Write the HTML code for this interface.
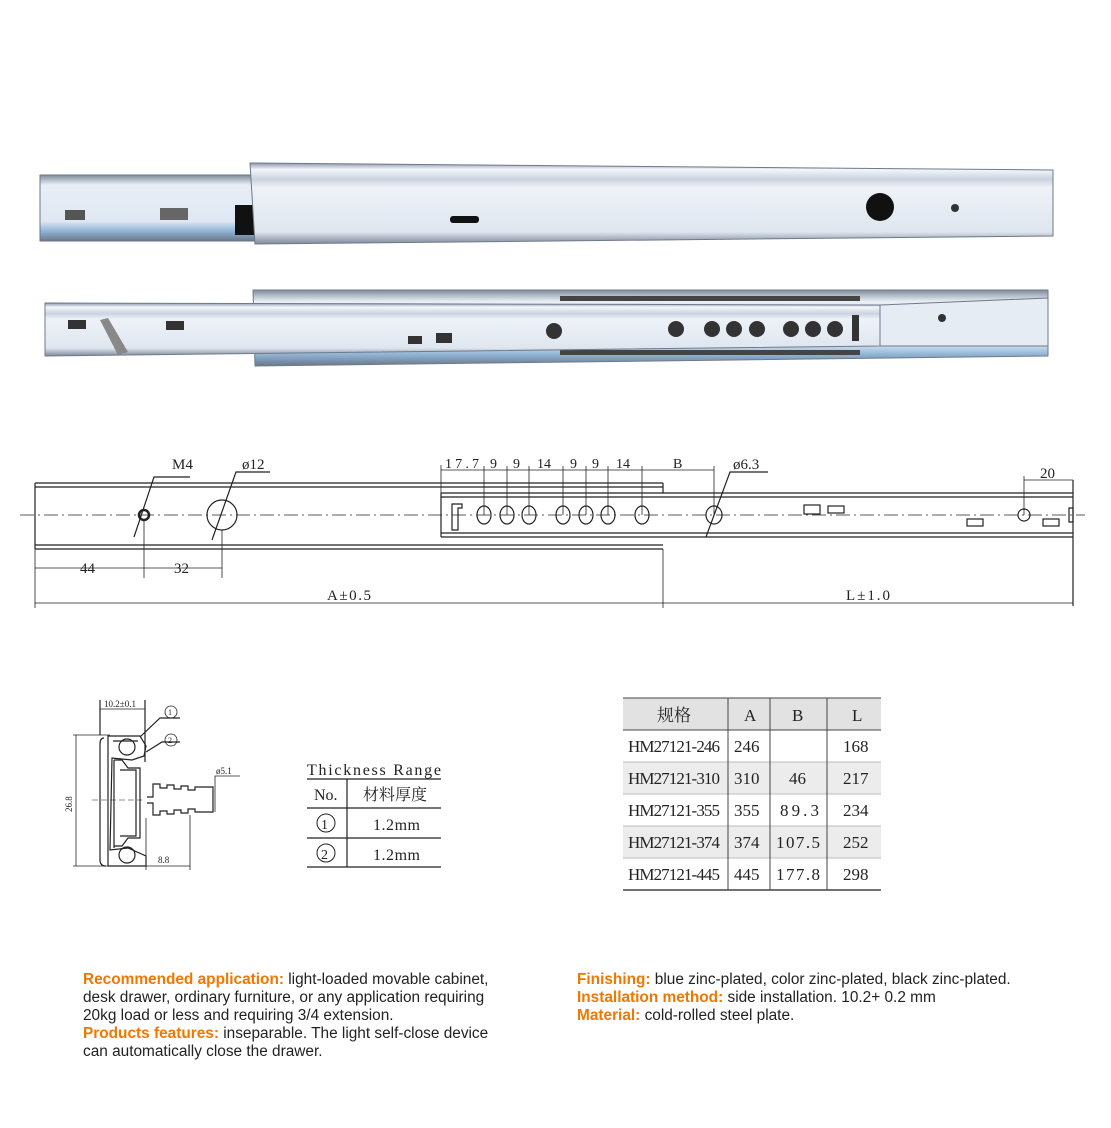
<!DOCTYPE html>
<html><head><meta charset="utf-8"><style>
body{margin:0;background:#fff;width:1111px;height:1128px;overflow:hidden;position:relative;font-family:"Liberation Sans",Arial,sans-serif}
.t{position:absolute;font-size:15.4px;line-height:18px;color:#222}
.o{color:#f07800;font-weight:bold}
svg text{font-family:"Liberation Serif","Noto Serif CJK SC",serif;fill:#222}
</style></head><body>
<svg width="1111" height="1128" style="position:absolute;left:0;top:0">
<defs>
<linearGradient id="rg" x1="0" y1="0" x2="0" y2="1">
<stop offset="0" stop-color="#8b97a8"/><stop offset="0.08" stop-color="#f4f7fb"/><stop offset="0.2" stop-color="#c9d2de"/><stop offset="0.3" stop-color="#eef2f8"/><stop offset="0.85" stop-color="#dfe6ef"/><stop offset="1" stop-color="#7d8899"/></linearGradient>
<linearGradient id="ig" x1="0" y1="0" x2="0" y2="1">
<stop offset="0" stop-color="#7f8a9a"/><stop offset="0.15" stop-color="#e8eef6"/><stop offset="0.7" stop-color="#dfe8f2"/><stop offset="0.85" stop-color="#8fb4d6"/><stop offset="1" stop-color="#6b7687"/></linearGradient>
</defs>
<!-- photo top -->
<rect x="40" y="175" width="215" height="66" fill="url(#ig)" stroke="#6b7687"/>
<rect x="235" y="205" width="20" height="30" fill="#111"/>
<rect x="65" y="210" width="20" height="10" fill="#555"/><rect x="160" y="208" width="28" height="12" fill="#666"/>
<polygon points="250,163 1053,170 1053,236 255,244" fill="url(#rg)" stroke="#6f7a8a"/>
<rect x="450" y="216" width="29" height="7" rx="3" fill="#111"/>
<circle cx="880" cy="207" r="14" fill="#111"/><circle cx="955" cy="208" r="4" fill="#333"/>
<!-- photo bottom -->
<polygon points="253,290 1048,290 1048,356 255,366" fill="url(#ig)" stroke="#6f7a8a"/>
<g fill="#444"><rect x="560" y="296" width="300" height="5"/><rect x="560" y="350" width="300" height="5"/></g>
<polygon points="45,303 880,305 880,346 45,356" fill="url(#rg)" stroke="#6f7a8a"/>
<polygon points="880,305 1048,298 1048,346 880,346" fill="#e6ecf4" stroke="#6f7a8a"/>
<g fill="#333"><rect x="68" y="320" width="18" height="9"/><rect x="166" y="321" width="18" height="9"/><rect x="408" y="336" width="14" height="8"/><rect x="436" y="333" width="16" height="10"/>
<polygon points="100,320 108,318 128,352 118,355" fill="#888"/>
<circle cx="554" cy="331" r="8"/><circle cx="676" cy="329" r="8"/><circle cx="712" cy="329" r="8"/><circle cx="734" cy="329" r="8"/><circle cx="757" cy="329" r="8"/><circle cx="791" cy="329" r="8"/><circle cx="813" cy="329" r="8"/><circle cx="835" cy="329" r="8"/>
<rect x="852" y="315" width="7" height="26"/><circle cx="942" cy="318" r="4"/></g>

<!-- technical drawing -->
<g stroke="#222" fill="none" stroke-width="1.2">
<line x1="35" y1="483" x2="663" y2="483"/><line x1="35" y1="487" x2="663" y2="487"/>
<line x1="35" y1="545" x2="663" y2="545"/><line x1="35" y1="549" x2="663" y2="549"/>
<line x1="35" y1="483" x2="35" y2="549"/><line x1="663" y1="483" x2="663" y2="493"/>
<line x1="441" y1="493" x2="1073" y2="493"/><line x1="441" y1="497" x2="1073" y2="497"/>
<line x1="441" y1="533" x2="1073" y2="533"/><line x1="441" y1="537" x2="1073" y2="537"/>
<line x1="441" y1="493" x2="441" y2="537"/><line x1="1073" y1="480" x2="1073" y2="606"/>
<line x1="20" y1="515" x2="1085" y2="515" stroke-dasharray="14,4,2,4" stroke-width="0.8"/>
<circle cx="144" cy="515" r="5" stroke-width="2.5"/><circle cx="222" cy="515" r="15"/>
<g><ellipse cx="484" cy="515" rx="7" ry="9"/><ellipse cx="507" cy="515" rx="7" ry="9"/><ellipse cx="529" cy="515" rx="7" ry="9"/><ellipse cx="563" cy="515" rx="7" ry="9"/><ellipse cx="586" cy="515" rx="7" ry="9"/><ellipse cx="608" cy="515" rx="7" ry="9"/><ellipse cx="642" cy="515" rx="7" ry="9"/><ellipse cx="714" cy="515" rx="8" ry="9"/></g>
<path d="M452 504h10v4h-4v22h-6z"/>
<rect x="804" y="505" width="16" height="9"/><rect x="828" y="506" width="16" height="7"/><rect x="967" y="519" width="16" height="7"/><rect x="1043" y="519" width="16" height="7"/>
<circle cx="1024" cy="515" r="6"/><path d="M1069 508h4v14h-4z"/>
<path d="M134 537 L154 477 H190"/><path d="M212 540 L236 472 H270"/><path d="M706 537 L730 472 H768"/>
<g stroke-width="0.8">
<line x1="144" y1="520" x2="144" y2="578"/><line x1="222" y1="530" x2="222" y2="578"/>
<line x1="35" y1="568" x2="222" y2="568"/>
<line x1="35" y1="549" x2="35" y2="608"/><line x1="663" y1="549" x2="663" y2="608"/>
<line x1="35" y1="603" x2="1073" y2="603"/>
<line x1="441" y1="465" x2="441" y2="493"/>
<line x1="441" y1="470" x2="714" y2="470"/>
<line x1="484" y1="466" x2="484" y2="515"/><line x1="507" y1="466" x2="507" y2="515"/><line x1="529" y1="466" x2="529" y2="515"/><line x1="563" y1="466" x2="563" y2="515"/><line x1="586" y1="466" x2="586" y2="515"/><line x1="608" y1="466" x2="608" y2="515"/><line x1="642" y1="466" x2="642" y2="515"/><line x1="714" y1="466" x2="714" y2="515"/>
<line x1="1024" y1="476" x2="1024" y2="515"/><line x1="1024" y1="480" x2="1073" y2="480"/>
</g></g>
<g font-size="15">
<text x="172" y="469">M4</text><text x="242" y="469">ø12</text><text x="733" y="469">ø6.3</text>
<text x="445" y="468" font-size="14" textLength="34">17.7</text><text x="490" y="468" font-size="14">9</text><text x="513" y="468" font-size="14">9</text><text x="537" y="468" font-size="14">14</text><text x="570" y="468" font-size="14">9</text><text x="592" y="468" font-size="14">9</text><text x="616" y="468" font-size="14">14</text><text x="673" y="468" font-size="14">B</text>
<text x="1040" y="478">20</text>
<text x="80" y="573">44</text><text x="174" y="573">32</text>
<text x="327" y="600" textLength="44">A±0.5</text><text x="846" y="600" textLength="44">L±1.0</text>
</g>

<!-- cross section -->
<g stroke="#222" fill="none" stroke-width="1.2">
<line x1="100" y1="700" x2="100" y2="735"/><line x1="145" y1="700" x2="145" y2="762"/>
<line x1="100" y1="709" x2="145" y2="709" stroke-width="0.8"/>
<line x1="73" y1="735" x2="110" y2="735" stroke-width="0.8"/><line x1="73" y1="866" x2="110" y2="866" stroke-width="0.8"/>
<line x1="76" y1="735" x2="76" y2="866" stroke-width="0.8"/>
<path d="M108 736 H140 L146 746 L144 756 L132 760 L112 758 L110 850 L128 848 L146 856 L146 866 L108 866 Z"/>
<path d="M113 741 H138 M114 760 V848"/>
<path d="M104 738 Q100 738 100 744 V860 Q100 866 106 866"/>
<path d="M114 760 H122 L128 768 H140 V838 H128 L122 846 H114"/>
<path d="M120 770 H136 V836 H120"/>
<circle cx="127" cy="747" r="8"/><circle cx="127" cy="855" r="8"/>
<path d="M147 797 H153 V784 H160 V788 H167 V785 H174 V789 H181 V786 H188 V790 H195 V787 H213 V812 H195 V809 H188 V813 H181 V810 H174 V814 H167 V811 H160 V815 H153 V803 H147"/>
<line x1="146" y1="818" x2="146" y2="870" stroke-width="0.8"/><line x1="190" y1="815" x2="190" y2="870" stroke-width="0.8"/><line x1="146" y1="866" x2="190" y2="866" stroke-width="0.8"/>
<line x1="215" y1="787" x2="215" y2="812" stroke-width="0.8"/><path d="M215 787 V776 H240" stroke-width="0.8"/>
<line x1="92" y1="800" x2="142" y2="800" stroke-dasharray="6,3" stroke-width="0.6"/>
<path d="M140 737 L160 718 H180"/><path d="M146 752 L162 742 H180"/>
<circle cx="171" cy="712" r="6" stroke-width="0.8"/><circle cx="171" cy="740" r="6" stroke-width="0.8"/>
</g>
<g font-size="9"><text x="104" y="707">10.2±0.1</text><text x="216" y="774">ø5.1</text><text x="158" y="863">8.8</text>
<text x="168" y="715" font-size="8">1</text><text x="168" y="743" font-size="8">2</text>
<text x="72" y="812" transform="rotate(-90 72 812)">26.8</text></g>

<!-- thickness table -->
<g stroke="#222" stroke-width="1.2"><line x1="307" y1="779" x2="441" y2="779"/><line x1="307" y1="808" x2="441" y2="808"/><line x1="307" y1="838" x2="441" y2="838"/><line x1="307" y1="867" x2="441" y2="867"/><line x1="347" y1="779" x2="347" y2="867"/>
<circle cx="326" cy="823" r="9" fill="none" stroke-width="1"/><circle cx="326" cy="853" r="9" fill="none" stroke-width="1"/></g>
<g font-size="16"><text x="307" y="775" textLength="134">Thickness Range</text><text x="314" y="800">No.</text><text x="363" y="800">材料厚度</text>
<text x="321" y="829" font-size="14">1</text><text x="321" y="859" font-size="14">2</text>
<text x="373" y="830" textLength="47">1.2mm</text><text x="373" y="860" textLength="47">1.2mm</text></g>

<!-- spec table -->
<rect x="623" y="698" width="258" height="32" fill="#e2e2e2"/>
<rect x="623" y="762" width="258" height="32" fill="#ececec"/>
<rect x="623" y="826" width="258" height="32" fill="#ececec"/>
<g stroke="#444" stroke-width="1"><line x1="623" y1="698" x2="881" y2="698"/><line x1="623" y1="730" x2="881" y2="730"/><line x1="623" y1="762" x2="881" y2="762" stroke="#bbb"/><line x1="623" y1="794" x2="881" y2="794" stroke="#bbb"/><line x1="623" y1="826" x2="881" y2="826" stroke="#bbb"/><line x1="623" y1="858" x2="881" y2="858" stroke="#bbb"/><line x1="623" y1="890" x2="881" y2="890" stroke-width="1.5"/>
<line x1="728" y1="698" x2="728" y2="890"/><line x1="770" y1="698" x2="770" y2="890"/><line x1="827" y1="698" x2="827" y2="890"/></g>
<g font-size="17">
<text x="657" y="721">规格</text><text x="744" y="721">A</text><text x="792" y="721">B</text><text x="852" y="721">L</text>
<text x="628" y="752" textLength="92">HM27121-246</text><text x="734" y="752">246</text><text x="843" y="752">168</text>
<text x="628" y="784" textLength="92">HM27121-310</text><text x="734" y="784">310</text><text x="789" y="784">46</text><text x="843" y="784">217</text>
<text x="628" y="816" textLength="92">HM27121-355</text><text x="734" y="816">355</text><text x="780" y="816" textLength="39">89.3</text><text x="843" y="816">234</text>
<text x="628" y="848" textLength="92">HM27121-374</text><text x="734" y="848">374</text><text x="776" y="848" textLength="44">107.5</text><text x="843" y="848">252</text>
<text x="628" y="880" textLength="92">HM27121-445</text><text x="734" y="880">445</text><text x="776" y="880" textLength="44">177.8</text><text x="843" y="880">298</text>
</g>
</svg>
<div class="t" style="left:83px;top:971px;width:440px"><span class="o">Recommended application:</span> light-loaded movable cabinet,<br>desk drawer, ordinary furniture, or any application requiring<br>20kg load or less and requiring 3/4 extension.<br><span class="o">Products features:</span> inseparable. The light self-close device<br>can automatically close the drawer.</div>
<div class="t" style="left:577px;top:971px;width:520px"><span class="o">Finishing:</span> blue zinc-plated, color zinc-plated, black zinc-plated.<br><span class="o">Installation method:</span> side installation. 10.2+ 0.2 mm<br><span class="o">Material:</span> cold-rolled steel plate.</div>
</body></html>
